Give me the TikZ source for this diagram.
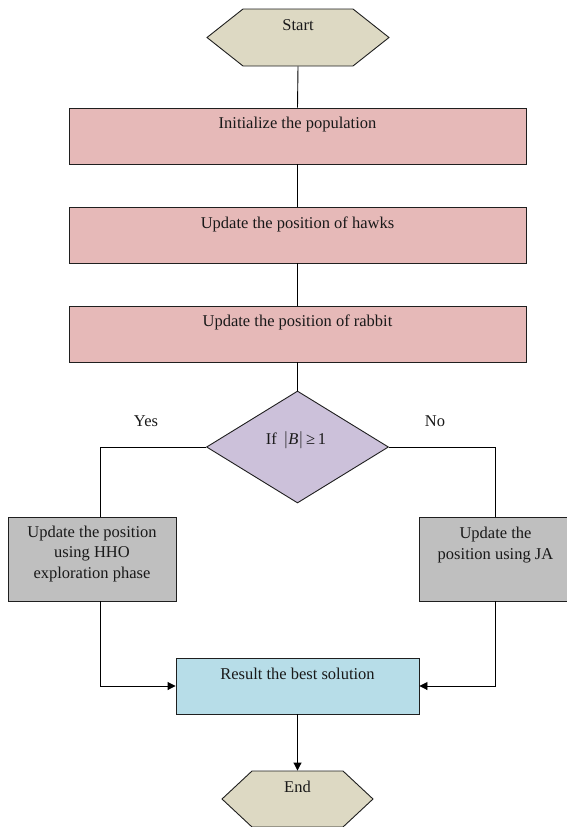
\documentclass[tikz,border=0pt]{standalone}
\usepackage{fontspec}
\setmainfont{Liberation Serif}
\usetikzlibrary{shapes.geometric,arrows.meta}
\definecolor{hexfill}{HTML}{DDD9C3}
\definecolor{pinkfill}{HTML}{E6B9B8}
\definecolor{lilac}{HTML}{CCC1DA}
\definecolor{grayfill}{HTML}{BFBFBF}
\definecolor{bluefill}{HTML}{B7DDE8}
\definecolor{linec}{HTML}{1F1F1F}
\begin{document}
\begin{tikzpicture}[x=1pt,y=-1pt,line width=0.9pt,
  every node/.style={font=\fontsize{16.5}{20.5}\selectfont,text=black!90},
  frame/.style={draw=none,fill=none,inner sep=0pt},
  hexa/.style={draw=linec,fill=hexfill,line join=miter},
  pinkbox/.style={rectangle,draw=linec,fill=pinkfill,inner sep=0pt,minimum width=457pt,minimum height=56pt},
  graybox/.style={rectangle,draw=linec,fill=grayfill,inner sep=0pt,minimum height=84pt},
  bluebox/.style={rectangle,draw=linec,fill=bluefill,inner sep=0pt,minimum width=243pt,minimum height=56pt},
  decision/.style={diamond,draw=linec,fill=lilac,inner sep=0pt,minimum width=182pt,minimum height=112pt},
  txt/.style={inner sep=0pt,align=center},
  conn/.style={draw=black,line width=0.9pt},
  arr/.style={conn,-{Triangle[length=8pt,width=8pt]}}]
\useasboundingbox (0,0) rectangle (567,827);

% Start
\node[frame,minimum width=182pt,minimum height=57pt] (start) at (298,37.5) {};
\draw[hexa] (207,37.5) -- (243,9) -- (353,9) -- (389,37.5) -- (353,66) -- (243,66) -- cycle;
\node[txt] (tstart) at (298,25) {Start};

% Process boxes
\node[pinkbox] (b1) at (297.5,136) {};
\node[txt] (t1) at (297.5,125) {Initialize the population};
\node[pinkbox] (b2) at (297.5,235) {};
\node[txt] (t2) at (297.5,224) {Update the position of hawks};
\node[pinkbox] (b3) at (297.5,334) {};
\node[txt] (t3) at (297.5,322) {Update the position of rabbit};

% Decision
\node[decision] (dec) at (297.5,447) {};
\node[txt] (tdec) at (296,440) {If\, $\bigl|\textit{B}\bigr|$\,≥\,1};
\node[txt] (yes) at (146,421) {Yes};
\node[txt] (no) at (435,421) {No};

% Branch boxes
\node[graybox,minimum width=168pt] (lb) at (92,559) {};
\node[txt] (tlb) at (92,554) {Update the position\\using HHO\\exploration phase};
\node[graybox,minimum width=152pt] (rb) at (495.5,559) {};
\node[txt] (trb) at (495.5,545) {Update the\\position using JA};

% Result
\node[bluebox] (res) at (297.5,686) {};
\node[txt] (tres) at (297.5,674) {Result the best solution};

% End
\node[frame,minimum width=151pt,minimum height=56pt] (endn) at (297.5,799) {};
\draw[hexa] (222,799) -- (252,771) -- (343,771) -- (373,799) -- (343,827) -- (252,827) -- cycle;
\node[txt] (tend) at (297.5,787) {End};

% Connectors
\draw[conn] (start.south) -- (b1.north);
\draw[conn] (b1.south) -- (b2.north);
\draw[conn] (b2.south) -- (b3.north);
\draw[conn] (b3.south) -- (dec.north);
\draw[conn] (dec.west) -| ([xshift=8pt]lb.north);
\draw[conn] (dec.east) -| (rb.north);
\draw[arr] ([xshift=8pt]lb.south) |- (res.west);
\draw[arr] (rb.south) |- (res.east);
\draw[arr] (res.south) -- (endn.north);
\end{tikzpicture}
\end{document}
